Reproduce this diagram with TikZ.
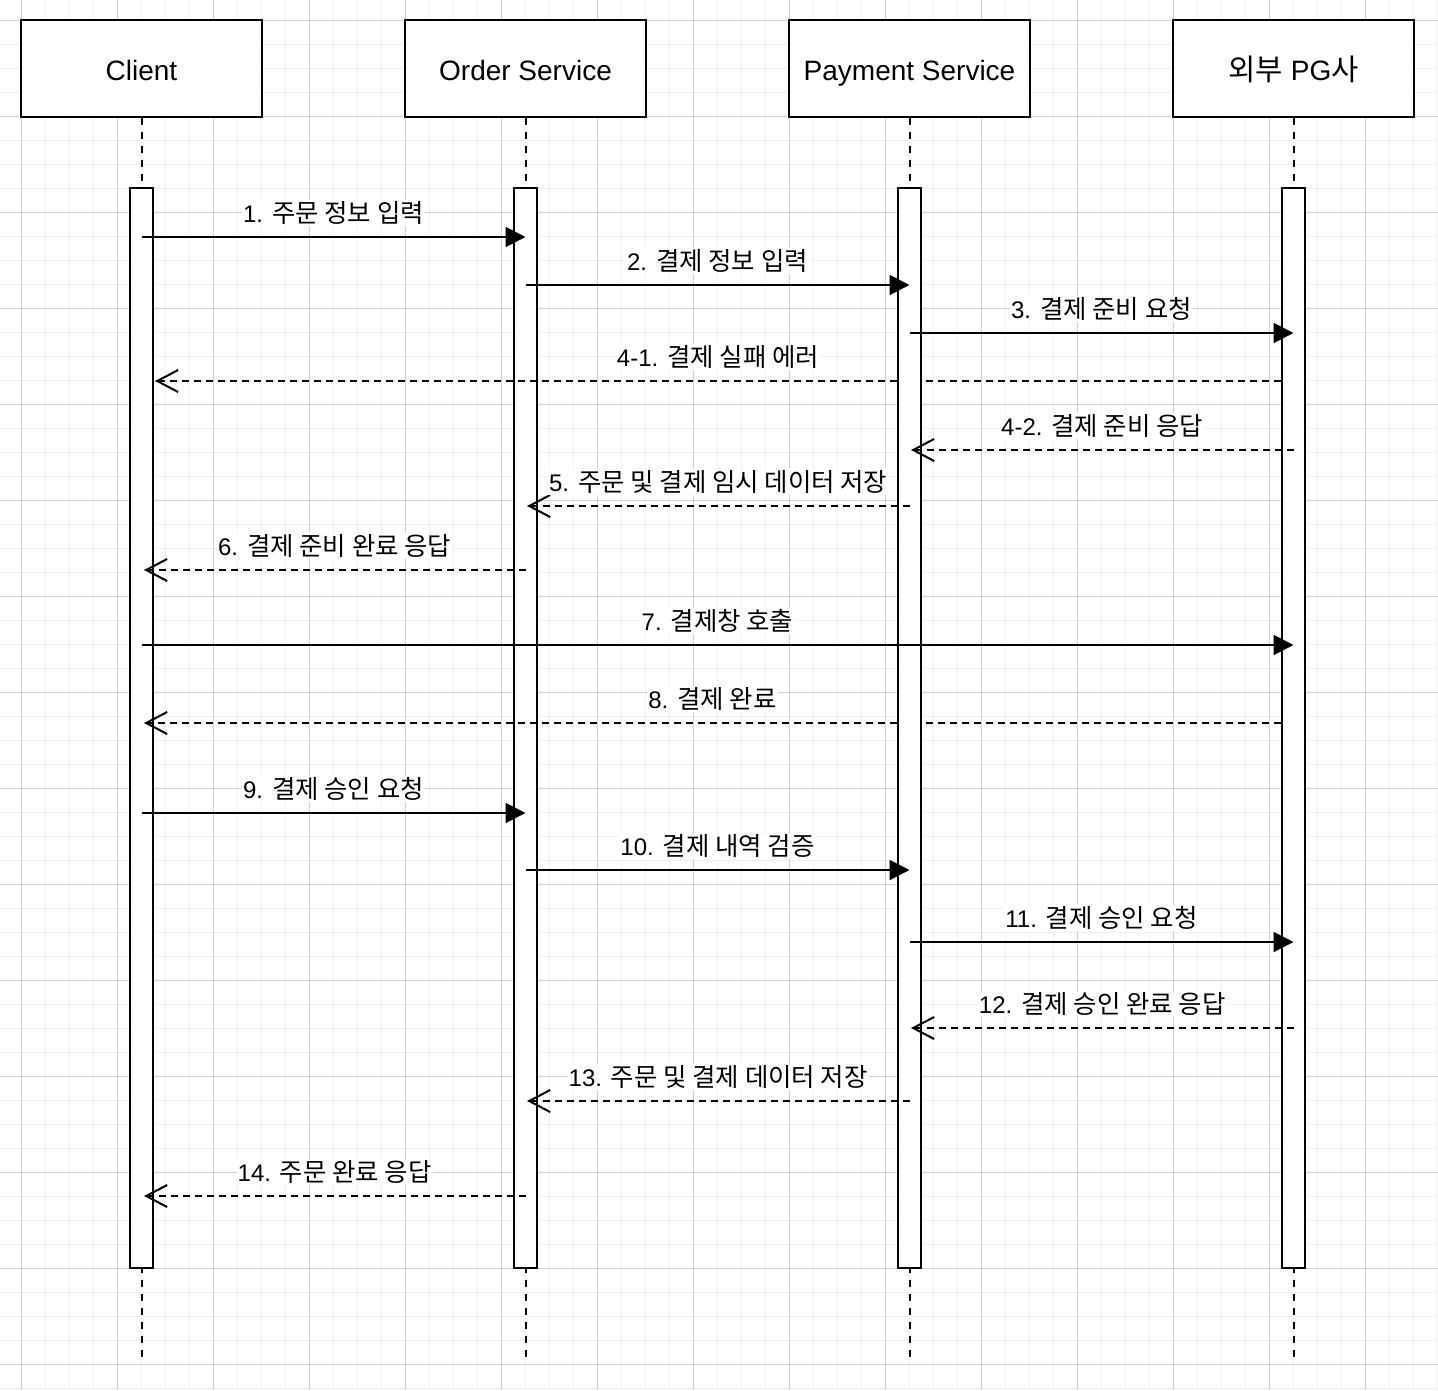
\documentclass[tikz,border=0pt]{standalone}
\usepackage{fontspec}
\setmainfont{Liberation Sans}
\newfontfamily\krfont{Noto Sans CJK KR}[Scale=1.06]
\newcommand{\ko}[1]{{\krfont #1}}
\usetikzlibrary{arrows.meta}
\definecolor{gridminor}{RGB}{240,240,240}
\definecolor{gridmajor}{RGB}{208,208,208}
\tikzset{
  actor/.style={draw=black, line width=2pt, fill=white, minimum width=241pt, minimum height=97pt, inner sep=0pt, text height=23pt, text depth=0pt, font=\fontsize{28}{32}\selectfont},
  lifeline/.style={draw=black, line width=2pt, dash pattern=on 7pt off 7pt},
  actbar/.style={draw=black, line width=2pt, fill=white, minimum width=23pt, minimum height=1080pt, inner sep=0pt},
  call/.style={draw=black, line width=2pt, -{Triangle[length=20pt,width=20pt]}},
  reply/.style={draw=black, line width=2pt, dash pattern=on 7pt off 5pt, -{Straight Barb[length=21pt,width=22pt,line width=2pt]}},
  lbl/.style={fill=white, inner sep=1pt, font=\fontsize{24}{28}\selectfont, text=black},
}
\newcommand{\msg}[6]{%
  \coordinate (#1a) at (#3,#2);
  \coordinate (#1b) at (#4,#2);
  \draw[#5] (#1a) -- (#1b) node[lbl, midway, yshift=24pt] {#6};
}
\begin{document}
\begin{tikzpicture}[x=1pt, y=-1pt]
\useasboundingbox (0,0) rectangle (1438,1390);
\fill[white] (0,0) rectangle (1438,1390);
% grid
\foreach \i in {-3,21,...,1440} \draw[gridminor, line width=1pt] (\i,0) -- (\i,1390);
\foreach \i in {-4,20,...,1392} \draw[gridminor, line width=1pt] (0,\i) -- (1438,\i);
\foreach \i in {21,117,...,1440} \draw[gridmajor, line width=1pt] (\i,0) -- (\i,1390);
\foreach \i in {20,116,...,1392} \draw[gridmajor, line width=1pt] (0,\i) -- (1438,\i);
% actors
\node[actor] (client) at (141.5,68.5) {Client};
\node[actor] (order) at (525.5,68.5) {Order Service};
\node[actor] (pay) at (909.5,68.5) {Payment Service};
\node[actor] (pg) at (1293.5,68.5) {\ko{외부} PG\ko{사}};
% lifeline ends
\coordinate (clientE) at (141.5,1362);
\coordinate (orderE) at (525.5,1362);
\coordinate (payE) at (909.5,1362);
\coordinate (pgE) at (1293.5,1362);
\draw[lifeline] (client.south) -- (clientE);
\draw[lifeline] (order.south) -- (orderE);
\draw[lifeline] (pay.south) -- (payE);
\draw[lifeline] (pg.south) -- (pgE);
% activation bars (client, order)
\node[actbar] (clientBar) at (141.5,728) {};
\node[actbar] (orderBar) at (525.5,728) {};
% replies hidden behind payment bar
\msg{m41}{381}{1281}{155}{reply}{4-1. \ko{결제 실패 에러}}
\msg{m8}{723}{1281}{144}{reply}{8. \ko{결제 완료}}
% payment & pg bars
\node[actbar] (payBar) at (909.5,728) {};
\node[actbar] (pgBar) at (1293.5,728) {};
% messages
\msg{m1}{237}{141.5}{525.5}{call}{1. \ko{주문 정보 입력}}
\msg{m2}{285}{525.5}{909.5}{call}{2. \ko{결제 정보 입력}}
\msg{m3}{333}{909.5}{1293.5}{call}{3. \ko{결제 준비 요청}}
\msg{m42}{450}{1293.5}{911}{reply}{4-2. \ko{결제 준비 응답}}
\msg{m5}{506}{909.5}{527}{reply}{5. \ko{주문 및 결제 임시 데이터 저장}}
\msg{m6}{570}{525.5}{144}{reply}{6. \ko{결제 준비 완료 응답}}
\msg{m7}{645}{141.5}{1293.5}{call}{7. \ko{결제창 호출}}
\msg{m9}{813}{141.5}{525.5}{call}{9. \ko{결제 승인 요청}}
\msg{m10}{870}{525.5}{909.5}{call}{10. \ko{결제 내역 검증}}
\msg{m11}{942}{909.5}{1293.5}{call}{11. \ko{결제 승인 요청}}
\msg{m12}{1028}{1293.5}{911}{reply}{12. \ko{결제 승인 완료 응답}}
\msg{m13}{1101}{909.5}{527}{reply}{13. \ko{주문 및 결제 데이터 저장}}
\msg{m14}{1196}{525.5}{144}{reply}{14. \ko{주문 완료 응답}}
\end{tikzpicture}
\end{document}
